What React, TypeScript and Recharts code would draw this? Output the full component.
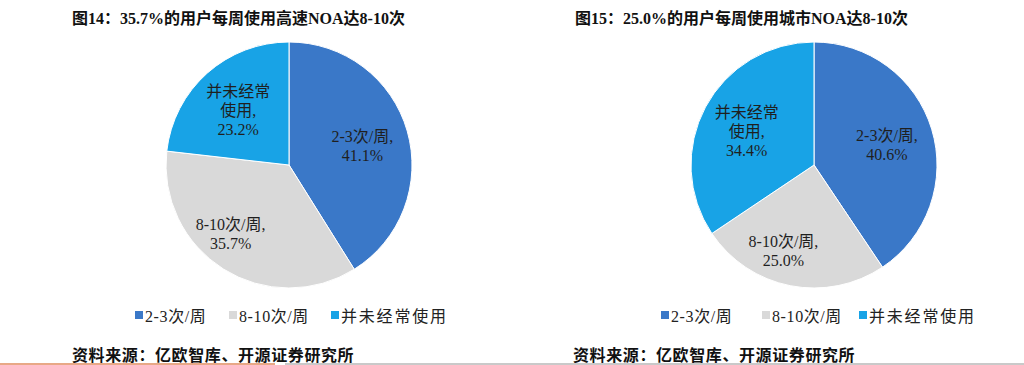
import React from 'react';
import { PieChart, Pie, Cell } from 'recharts';

const categories = ['2-3次/周', '8-10次/周', '并未经常使用'];
const sliceLabelNames = [['2-3次/周,'], ['8-10次/周,'], ['并未经常', '使用,']];
const highwayValues = [41.1, 35.7, 23.2];
const cityValues = [40.6, 25.0, 34.4];
const titles = ['图14：35.7%的用户每周使用高速NOA达8-10次', '图15：25.0%的用户每周使用城市NOA达8-10次'];
const sourceText = '资料来源：亿欧智库、开源证券研究所';
const colors = ['#3A78C8', '#D9D9D9', '#18A3E6'];

const highwayData = categories.map((name, i) => ({ name, value: highwayValues[i] }));
const cityData = categories.map((name, i) => ({ name, value: cityValues[i] }));

const SERIF = '"Liberation Serif", "Noto Sans CJK SC", serif';
const RADIAN = Math.PI / 180;

const renderLabel = (props: any) => {
  const { cx, cy, midAngle, outerRadius, index, value } = props;
  const factor = index === 1 ? 0.72 : index === 2 ? 0.62 : 0.62;
  const angle = index === 1 ? midAngle - 9 : midAngle;
  const r = outerRadius * factor;
  const x = cx + r * Math.cos(-angle * RADIAN);
  const y = cy + r * Math.sin(-angle * RADIAN) + 2;
  const lines = [...sliceLabelNames[index], `${Number(value).toFixed(1)}%`];
  const lh = 19;
  const y0 = y - ((lines.length - 1) * lh) / 2;
  return (
    <text
      x={x}
      y={y0}
      textAnchor="middle"
      dominantBaseline="central"
      fill="#1f1f1f"
      fontSize={16}
      fontFamily={SERIF}
    >
      {lines.map((l, i) => (
        <tspan key={i} x={x} dy={i === 0 ? 0 : lh}>
          {l}
        </tspan>
      ))}
    </text>
  );
};

const Legend = ({ positions }: { positions: number[] }) => (
  <>
    {categories.map((c, i) => (
      <div
        key={c}
        style={{
          position: 'absolute',
          left: positions[i],
          top: 305,
          height: 20,
          display: 'flex',
          alignItems: 'center',
          fontFamily: SERIF,
          fontSize: 16,
          color: '#222',
          whiteSpace: 'nowrap',
        }}
      >
        <span style={{ display: 'inline-block', width: 8, height: 8, background: colors[i], marginRight: 2 }} />
        <span style={{ letterSpacing: i === 2 ? 1.8 : 0.6 }}>{c}</span>
      </div>
    ))}
  </>
);

const titleStyle: React.CSSProperties = {
  position: 'absolute',
  top: 5,
  fontFamily: SERIF,
  fontWeight: 'bold',
  fontSize: 16,
  color: '#111',
  whiteSpace: 'nowrap',
};

const sourceStyle: React.CSSProperties = {
  position: 'absolute',
  top: 342,
  fontFamily: SERIF,
  fontWeight: 'bold',
  fontSize: 16,
  color: '#111',
  whiteSpace: 'nowrap',
  letterSpacing: 0.6,
};

export default function App() {
  return (
    <div style={{ position: 'absolute', left: 0, top: 0, width: 1024, height: 365, background: '#fff', overflow: 'hidden' }}>
      <div style={{ ...titleStyle, left: 72 }}>{titles[0]}</div>
      <div style={{ ...titleStyle, left: 575 }}>{titles[1]}</div>
      <div style={{ position: 'absolute', left: 0, top: 0 }}>
        <PieChart width={1024} height={300} margin={{ top: 0, right: 0, bottom: 0, left: 0 }}>
          <Pie
            data={highwayData}
            dataKey="value"
            nameKey="name"
            cx={289}
            cy={165}
            outerRadius={123}
            startAngle={90}
            endAngle={-270}
            stroke="#fff"
            strokeWidth={1}
            label={renderLabel}
            labelLine={false}
            isAnimationActive={false}
          >
            {highwayData.map((d, i) => (
              <Cell key={d.name} fill={colors[i]} />
            ))}
          </Pie>
          <Pie
            data={cityData}
            dataKey="value"
            nameKey="name"
            cx={814}
            cy={165}
            outerRadius={123}
            startAngle={90}
            endAngle={-270}
            stroke="#fff"
            strokeWidth={1}
            label={renderLabel}
            labelLine={false}
            isAnimationActive={false}
          >
            {cityData.map((d, i) => (
              <Cell key={d.name} fill={colors[i]} />
            ))}
          </Pie>
        </PieChart>
      </div>
      <Legend positions={[135, 229, 331]} />
      <Legend positions={[661, 762, 859]} />
      <div style={{ ...sourceStyle, left: 72 }}>{sourceText}</div>
      <div style={{ ...sourceStyle, left: 573 }}>{sourceText}</div>
      <div style={{ position: 'absolute', left: 0, top: 363, width: 275, height: 2, background: '#E8A886' }} />
      <div style={{ position: 'absolute', left: 285, top: 363, width: 739, height: 2, background: '#C9C9C9' }} />
    </div>
  );
}
